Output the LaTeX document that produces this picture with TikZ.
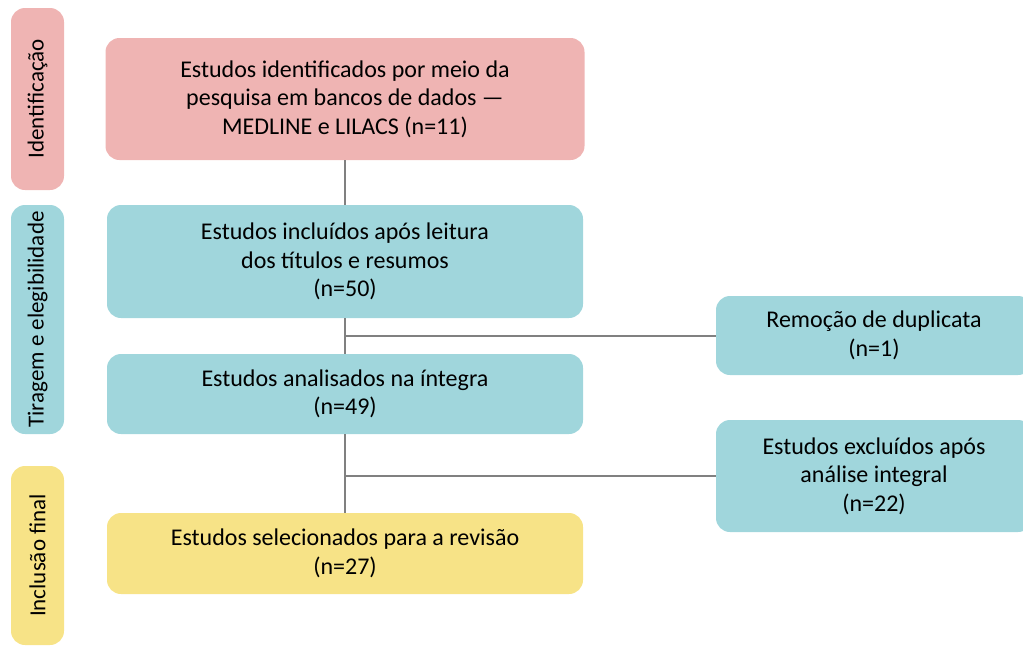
\documentclass[tikz,border=0pt]{standalone}
\usepackage{fontspec}
\setmainfont{Carlito}
\definecolor{pinkc}{HTML}{EFB4B3}
\definecolor{tealc}{HTML}{A0D6DC}
\definecolor{yellc}{HTML}{F7E387}
\definecolor{linec}{HTML}{808080}
\begin{document}
\begin{tikzpicture}[x=1pt,y=-1pt,
  box/.style={rounded corners=14pt, inner sep=0pt, align=center, font=\fontsize{24}{28.5}\selectfont, text=black},
  bar/.style={rounded corners=14pt, inner sep=0pt, minimum width=53pt},
  side/.style={rotate=90, font=\fontsize{23}{27}\selectfont, text=black},
  conn/.style={draw=linec, line width=2pt}]
\useasboundingbox (0,0) rectangle (1023,648);
\clip (0,0) rectangle (1023,648);
% side bars
\node[bar, fill=pinkc, minimum height=182pt] (b1) at (37.5,99) {};
\node[side] (l1) at (b1.center) {Identificação};
\node[bar, fill=tealc, minimum height=229pt] (b2) at (37.5,319.5) {};
\node[side] (l2) at (b2.center) {Tiragem e elegibilidade};
\node[bar, fill=yellc, minimum height=179pt] (b3) at (37.5,555.5) {};
\node[side] (l3) at (b3.center) {Inclusão final};
% main boxes
\node[box, fill=pinkc, minimum width=479pt, minimum height=122pt] (n1) at (345,99)
  {Estudos identificados por meio da\\pesquisa em bancos de dados —\\MEDLINE e LILACS (n=11)};
\node[box, fill=tealc, minimum width=476pt, minimum height=113pt] (n2) at (345,261.5)
  {Estudos incluídos após leitura\\dos títulos e resumos\\(n=50)};
\node[box, fill=tealc, minimum width=476pt, minimum height=80pt] (n3) at (345,394)
  {Estudos analisados na íntegra\\(n=49)};
\node[box, fill=yellc, minimum width=476pt, minimum height=81pt] (n4) at (345,553.5)
  {Estudos selecionados para a revisão\\(n=27)};
\node[box, fill=tealc, minimum width=316pt, minimum height=79pt] (r1) at (874,335.5)
  {Remoção de duplicata\\(n=1)};
\node[box, fill=tealc, minimum width=316pt, minimum height=112pt] (r2) at (874,476)
  {Estudos excluídos após\\análise integral\\(n=22)};
% connectors
\coordinate (j1) at (n2.south |- r1.west);
\coordinate (j2) at (n3.south |- r2.west);
\draw[conn] (n1.south) -- (n2.north);
\draw[conn] (n2.south) -- (n3.north);
\draw[conn] (j1) -- (r1.west);
\draw[conn] (n3.south) -- (n4.north);
\draw[conn] (j2) -- (r2.west);
\end{tikzpicture}
\end{document}
